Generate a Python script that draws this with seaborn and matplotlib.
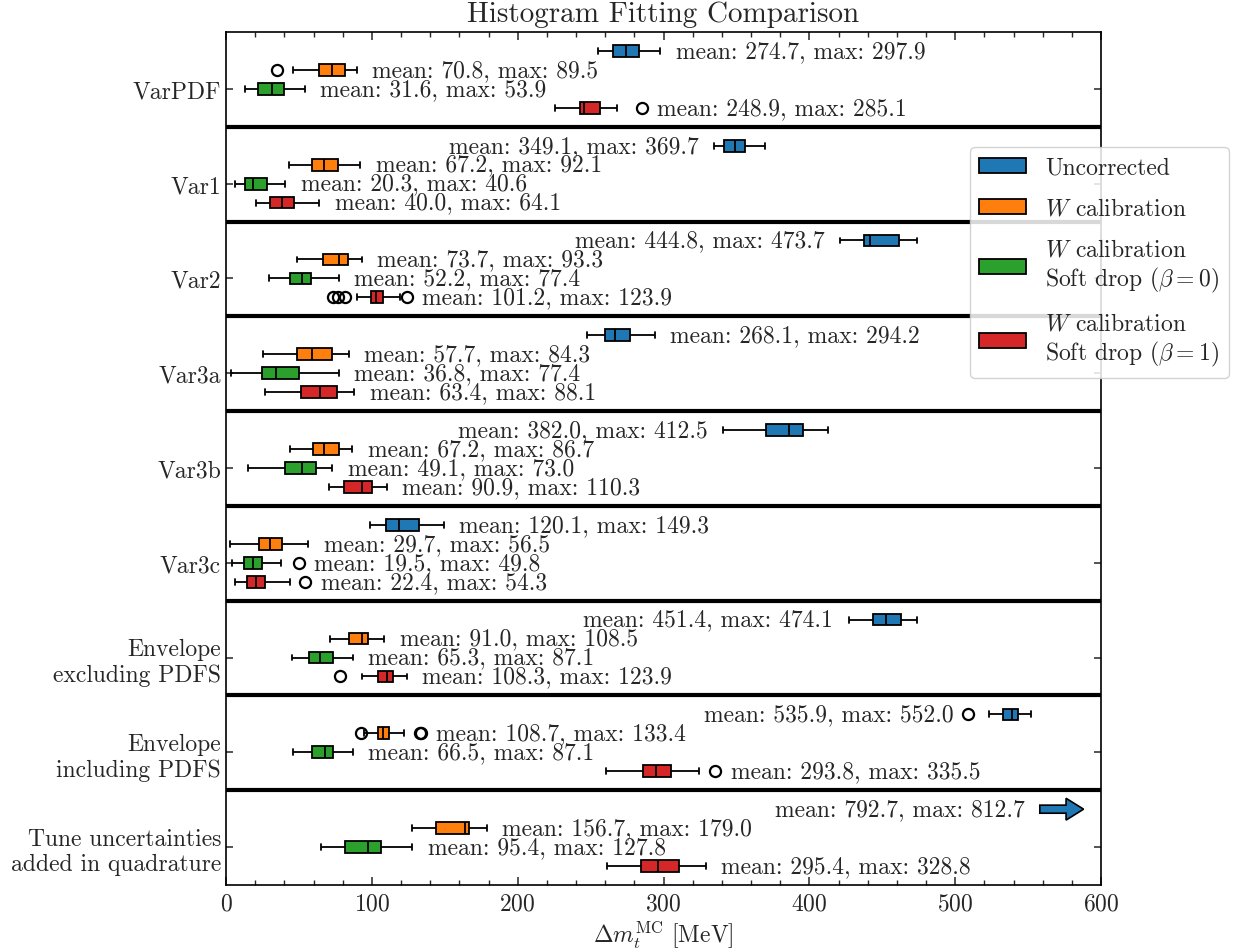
import numpy as np
import pandas as pd
import matplotlib
matplotlib.use("Agg")
import matplotlib.pyplot as plt
from matplotlib.patches import Patch
from matplotlib.ticker import AutoMinorLocator
import seaborn as sns

# ---------------------------------------------------------------- data
groups = ["VarPDF", "Var1", "Var2", "Var3a", "Var3b", "Var3c",
          "Envelope\nexcluding PDFS", "Envelope\nincluding PDFS",
          "Tune uncertainties\nadded in quadrature"]

series = ["Uncorrected", "W calibration", "W calibration SD0", "W calibration SD1"]
legend_labels = ["Uncorrected",
                 "$W$ calibration",
                 "$W$ calibration\nSoft drop ($\\beta = 0$)",
                 "$W$ calibration\nSoft drop ($\\beta = 1$)"]
colors = ["#1f77b4", "#ff7f0e", "#2ca02c", "#d62728"]

# five-number summaries per group: (lower whisker, Q1, median, Q3, upper whisker)
uncorrected_box = [(255.0, 265.2, 274.3, 283.2, 297.9),
                   (334.9, 341.7, 349.0, 356.1, 369.7),
                   (421.0, 437.7, 441.6, 461.3, 473.7),
                   (247.3, 259.9, 266.7, 277.0, 294.2),
                   (341.0, 370.3, 385.8, 395.4, 412.5),
                   (98.7, 109.7, 118.6, 132.3, 149.3),
                   (426.9, 443.3, 452.4, 462.7, 474.1),
                   (522.9, 532.9, 538.9, 543.2, 552.0),
                   (773.0, 786.0, 793.0, 800.0, 812.7)]
uncorrected_fliers = [[], [], [], [], [], [], [], [509.1], []]
uncorrected_mean = [274.7, 349.1, 444.8, 268.1, 382.0, 120.1, 451.4, 535.9, 792.7]

wcal_box = [(45.7, 64.0, 72.9, 81.4, 89.5),
            (43.0, 59.2, 67.4, 76.8, 92.1),
            (48.9, 66.7, 77.3, 83.7, 93.3),
            (25.6, 48.5, 58.8, 72.9, 84.3),
            (43.9, 59.9, 67.4, 77.5, 86.7),
            (2.7, 22.9, 30.2, 38.6, 56.5),
            (71.3, 84.3, 93.0, 97.6, 108.5),
            (94.5, 104.5, 107.9, 111.5, 121.8),
            (127.3, 144.0, 163.9, 166.9, 179.0)]
wcal_fliers = [[35.2], [], [], [], [], [], [], [92.3, 132.8, 133.4], []]
wcal_mean = [70.8, 67.2, 73.7, 57.7, 67.2, 29.7, 91.0, 108.7, 156.7]

sd0_box = [(13.3, 21.9, 31.5, 39.8, 53.9),
           (5.9, 13.3, 18.7, 27.9, 40.6),
           (29.3, 44.1, 51.9, 58.1, 77.4),
           (3.2, 24.9, 34.3, 50.3, 77.4),
           (15.1, 40.7, 51.9, 61.7, 73.0),
           (4.3, 12.3, 18.3, 24.5, 37.7),
           (45.5, 56.9, 64.5, 73.1, 87.1),
           (45.7, 59.0, 68.1, 73.1, 87.1),
           (64.9, 81.4, 97.2, 106.3, 127.8)]
sd0_fliers = [[], [], [], [], [], [49.8], [], [], []]
sd0_mean = [31.6, 20.3, 52.2, 36.8, 49.1, 19.5, 65.3, 66.5, 95.4]

sd1_box = [(225.6, 242.7, 245.7, 256.5, 268.3),
           (20.8, 30.4, 38.6, 46.6, 64.1),
           (89.6, 99.2, 102.9, 107.9, 119.0),
           (26.7, 51.6, 64.5, 76.3, 88.1),
           (70.6, 81.1, 93.0, 100.3, 110.3),
           (6.2, 14.2, 20.6, 26.7, 43.9),
           (93.5, 104.2, 110.2, 114.7, 123.9),
           (260.8, 285.9, 295.0, 305.0, 324.6),
           (261.5, 284.6, 296.5, 310.4, 328.8)]
sd1_fliers = [[285.1], [], [73.1, 77.0, 81.6, 123.9], [], [], [54.3], [78.2], [335.5], []]
sd1_mean = [248.9, 40.0, 101.2, 63.4, 90.9, 22.4, 108.3, 293.8, 295.4]

all_boxes = [uncorrected_box, wcal_box, sd0_box, sd1_box]
all_fliers = [uncorrected_fliers, wcal_fliers, sd0_fliers, sd1_fliers]
all_means = [uncorrected_mean, wcal_mean, sd0_mean, sd1_mean]

x_max = 600


def spread(summary, outliers, reps=20):
    """Values whose quartiles and whiskers reproduce the given summary."""
    lo, q1, med, q3, hi = summary
    return [lo] + [q1] * reps + [med] * reps + [q3] * reps + [hi] + list(outliers)


rows = []
for s_name, boxes, fliers in zip(series, all_boxes, all_fliers):
    for g, summ, fl in zip(groups, boxes, fliers):
        for v in spread(summ, fl):
            rows.append((g, s_name, v))
df = pd.DataFrame(rows, columns=["group", "series", "value"])

# ---------------------------------------------------------------- style
sns.set_style("white")
FS = 17
plt.rcParams.update({
    "font.family": "cmr10",
    "mathtext.fontset": "cm",
    "axes.formatter.use_mathtext": True,
    "font.size": FS,
    "axes.linewidth": 1.2,
})

fig = plt.figure(figsize=(12.33, 9.53), dpi=100)
ax = fig.add_axes([0.1833, 0.0703, 0.7097, 0.8951])

sns.boxplot(data=df, x="value", y="group", hue="series",
            order=groups, hue_order=series, palette=colors,
            saturation=1, width=0.8, gap=0.38, whis=1.5,
            linecolor="black", linewidth=1.3,
            flierprops=dict(marker="o", markerfacecolor="none",
                            markeredgecolor="black", markersize=8,
                            markeredgewidth=1.6),
            legend=False, ax=ax)

ax.set_xlim(0, x_max)
ax.set_ylim(len(groups) - 0.5, -0.5)

# group separators
for i in range(len(groups) - 1):
    ax.axhline(i + 0.5, color="black", lw=3, zorder=3)

# value annotations
offsets = [-0.3, -0.1, 0.1, 0.3]
pad = 10.5
for si, (boxes, fliers, means) in enumerate(zip(all_boxes, all_fliers, all_means)):
    for gi, (summ, fl, mean) in enumerate(zip(boxes, fliers, means)):
        vals = spread(summ, fl)
        vmin, vmax = min(vals), max(vals)
        y = gi + offsets[si]
        label = f"mean: {mean:.1f}, max: {vmax:.1f}"
        if vmin > x_max:
            start = 0.93 * x_max
            ax.arrow(start, y, 0.05 * x_max - 12, 0, width=0.085,
                     head_width=0.23, head_length=12, length_includes_head=False,
                     facecolor=colors[si], edgecolor="black", lw=1.2,
                     zorder=4, clip_on=False)
            ax.text(start - pad, y, label, ha="right", va="center", fontsize=FS)
        elif vmax > 340:
            ax.text(vmin - pad, y, label, ha="right", va="center", fontsize=FS)
        else:
            ax.text(vmax + pad, y, label, ha="left", va="center", fontsize=FS)

# axes decoration
ax.set_yticks(np.arange(len(groups)) + 0.1, groups)
ax.set_xticks(np.arange(0, x_max + 1, 100))
ax.xaxis.set_minor_locator(AutoMinorLocator(5))
ax.tick_params(axis="x", which="major", direction="in", top=True, bottom=True,
               length=6, width=1.1, labelsize=FS, pad=5)
ax.tick_params(axis="x", which="minor", direction="in", top=True, bottom=True,
               length=3.5, width=1.0)
ax.tick_params(axis="y", which="major", direction="in", left=True, right=True,
               length=5, width=1.1, labelsize=FS)
ax.set_ylabel("")
ax.set_xlabel(r"$\Delta m_t^{\mathrm{MC}}$ [MeV]", fontsize=FS, labelpad=3)
ax.set_title("Histogram Fitting Comparison", fontsize=21, pad=8)
for sp in ax.spines.values():
    sp.set_visible(True)
    sp.set_color("black")

handles = [Patch(facecolor=c, edgecolor="black", lw=1.3) for c in colors]
ax.legend(handles, legend_labels, loc="upper left",
          bbox_to_anchor=(0.85, 0.865), borderaxespad=0, frameon=True,
          fontsize=FS, labelspacing=0.8, handlelength=2.0, handleheight=0.6,
          handletextpad=0.8, borderpad=0.4, framealpha=0.85)

fig.savefig("out.png", dpi=100)
